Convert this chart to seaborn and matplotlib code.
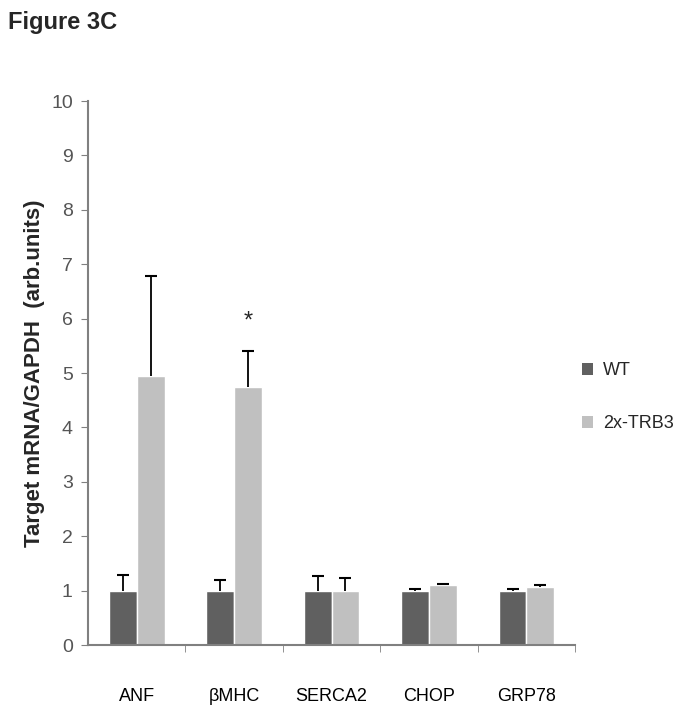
import pandas as pd
import numpy as np
import matplotlib
matplotlib.use("Agg")
import matplotlib.pyplot as plt
import seaborn as sns
from matplotlib.patches import Patch

# values
genes = ['ANF', 'βMHC', 'SERCA2', 'CHOP', 'GRP78']
groups = ['WT', '2x-TRB3']
wt_mean = [1.0, 1.0, 1.0, 1.0, 1.0]
wt_err = [0.29, 0.19, 0.27, 0.03, 0.03]
trb3_mean = [4.94, 4.74, 1.0, 1.10, 1.07]
trb3_err = [1.85, 0.66, 0.24, 0.03, 0.03]
star_gene = 'βMHC'
star_y = 5.95

colors = ['#606060', '#c0c0c0']

df = pd.DataFrame({
    'gene': genes * 2,
    'group': [groups[0]] * len(genes) + [groups[1]] * len(genes),
    'value': wt_mean + trb3_mean,
})
errs = {groups[0]: wt_err, groups[1]: trb3_err}

sns.set_style('white')
plt.rcParams['font.family'] = ['Liberation Sans', 'DejaVu Sans']

fig = plt.figure(figsize=(6.88, 7.10), dpi=100)
ax = fig.add_axes([0.128, 0.0915, 0.708, 0.7662])

sns.barplot(data=df, x='gene', y='value', hue='group', order=genes,
            hue_order=groups, palette=colors, width=0.57, gap=0,
            errorbar=None, saturation=1, legend=False, ax=ax)

# one-sided error bars: stem up from bar top plus a cap
for cont, g in zip(ax.containers, groups):
    xs = np.array([p.get_x() + p.get_width() / 2 for p in cont])
    hs = np.array([p.get_height() for p in cont])
    e = np.array(errs[g])
    ax.vlines(xs, hs, hs + e, color='black', lw=1.3)
    ax.plot(xs, hs + e, ls='none', marker='_', ms=9, mew=1.5, color='black')

# significance star
sx = ax.containers[1][genes.index(star_gene)]
ax.text(sx.get_x() + sx.get_width() / 2, star_y, '*', ha='center',
        va='center', fontsize=17)

ax.set_xlim(-0.5, len(genes) - 0.5)
ax.set_ylim(0, 10)
ax.set_yticks(range(0, 11))
ax.set_xticks(np.arange(len(genes)))
ax.set_xticklabels(genes, fontsize=13)
ax.set_xticks(np.arange(len(genes)) + 0.5, minor=True)
ax.tick_params(axis='x', which='major', length=0, pad=31, labelcolor='black')
ax.tick_params(axis='x', which='minor', length=5, color='#808080',
               direction='out', bottom=True)
ax.tick_params(axis='y', length=5, color='#808080', direction='out',
               left=True, labelsize=14, labelcolor='#555555', pad=6)
ax.set_xlabel('')
ax.set_ylabel('Target mRNA/GAPDH  (arb.units)', fontsize=16,
              fontweight='bold', labelpad=4)

for s in ['top', 'right']:
    ax.spines[s].set_visible(False)
for s in ['left', 'bottom']:
    ax.spines[s].set_color('#808080')
    ax.spines[s].set_linewidth(1.5)

handles = [Patch(facecolor=c, edgecolor='none') for c in colors]
fig.legend(handles, groups, loc='upper left', bbox_to_anchor=(0.835, 0.5),
           frameon=False, fontsize=13, handlelength=0.6, handleheight=0.6,
           handletextpad=0.6, labelspacing=2.0, borderaxespad=0)

fig.text(0.012, 0.968, 'Figure 3C', fontsize=17, fontweight='bold',
         va='center', ha='left')

fig.savefig('out.png', dpi=100)
